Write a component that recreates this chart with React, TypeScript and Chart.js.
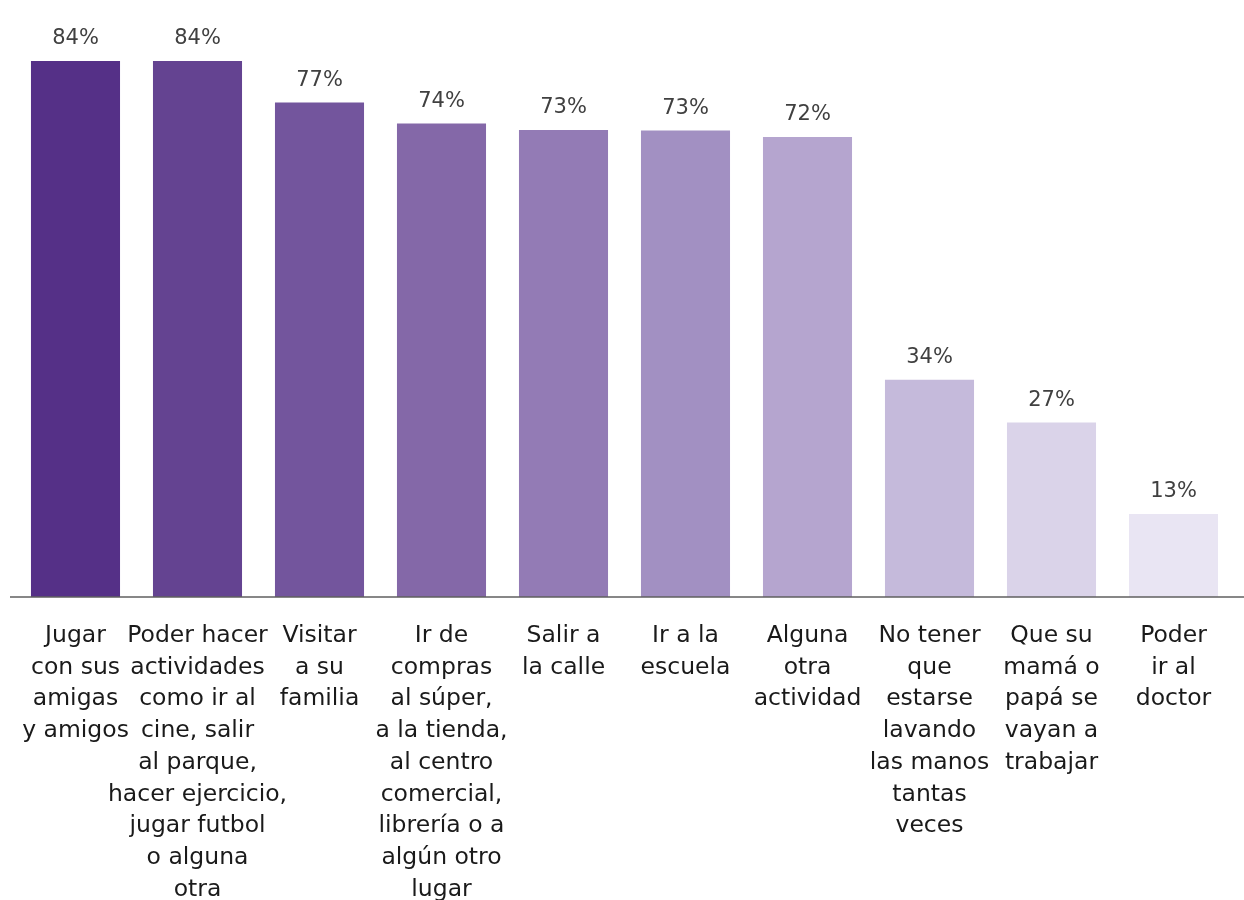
import React, { useEffect, useRef } from "react";
import { Chart, registerables } from "chart.js";

Chart.register(...registerables);

const categories: string[][] = [
  ["Jugar", "con sus", "amigas", "y amigos"],
  ["Poder hacer", "actividades", "como ir al", "cine, salir", "al parque,", "hacer ejercicio,", "jugar futbol", "o alguna", "otra"],
  ["Visitar", "a su", "familia"],
  ["Ir de", "compras", "al súper,", "a la tienda,", "al centro", "comercial,", "librería o a", "algún otro", "lugar"],
  ["Salir a", "la calle"],
  ["Ir a la", "escuela"],
  ["Alguna", "otra", "actividad"],
  ["No tener", "que", "estarse", "lavando", "las manos", "tantas", "veces"],
  ["Que su", "mamá o", "papá se", "vayan a", "trabajar"],
  ["Poder", "ir al", "doctor"],
];

const values: number[] = [83.9, 83.9, 77.4, 74.1, 73.1, 73.0, 72.0, 34.0, 27.3, 13.0];

const barColors: string[] = [
  "#553087", "#644391", "#73559d", "#8468a8", "#937bb5",
  "#a290c2", "#b5a5cf", "#c5badb", "#dad3e9", "#e9e5f3",
];

const FONT = "'DejaVu Sans', sans-serif";

const extrasPlugin = {
  id: "extras",
  afterDatasetsDraw(chart: any) {
    const ctx = chart.ctx;
    const yScale = chart.scales.y;
    const y0 = yScale.getPixelForValue(0);
    ctx.save();
    ctx.strokeStyle = "#5f5f5f";
    ctx.lineWidth = 1.5;
    ctx.beginPath();
    ctx.moveTo(10, y0);
    ctx.lineTo(chart.width, y0);
    ctx.stroke();

    const meta = chart.getDatasetMeta(0);
    ctx.fillStyle = "#404040";
    ctx.font = `21px ${FONT}`;
    ctx.textAlign = "center";
    ctx.textBaseline = "middle";
    meta.data.forEach((bar: any, i: number) => {
      const v = chart.data.datasets[0].data[i] as number;
      ctx.fillText(`${Math.round(v)}%`, bar.x, bar.y - 22);
    });
    ctx.restore();
  },
};

export default function App() {
  const canvasRef = useRef<HTMLCanvasElement | null>(null);

  useEffect(() => {
    if (!canvasRef.current) return;
    const chart = new Chart(canvasRef.current, {
      type: "bar",
      data: {
        labels: categories,
        datasets: [
          {
            data: values,
            backgroundColor: barColors,
            borderWidth: 0,
            categoryPercentage: 1,
            barPercentage: 0.73,
          },
        ],
      },
      options: {
        responsive: false,
        animation: false,
        layout: { padding: { top: 22, left: 14.5, right: 9.5, bottom: 0 } },
        plugins: {
          legend: { display: false },
          tooltip: { enabled: false },
        },
        scales: {
          x: {
            grid: { display: false, drawTicks: false },
            border: { display: false },
            ticks: {
              color: "#1a1a1a",
              font: { family: FONT, size: 23.5, lineHeight: 1.35 },
              padding: 23,
              maxRotation: 0,
              autoSkip: false,
            },
            afterFit(scale: any) {
              scale.height = 303;
              scale.paddingLeft = 0;
              scale.paddingRight = 0;
            },
          },
          y: {
            display: false,
            min: 0,
            max: 90,
          },
        },
      },
      plugins: [extrasPlugin],
    });
    return () => chart.destroy();
  }, []);

  return (
    <div style={{ position: "fixed", left: 0, top: 0, width: 1244, height: 900, background: "#fff" }}>
      <canvas ref={canvasRef} width={1244} height={900} style={{ display: "block" }} />
    </div>
  );
}
